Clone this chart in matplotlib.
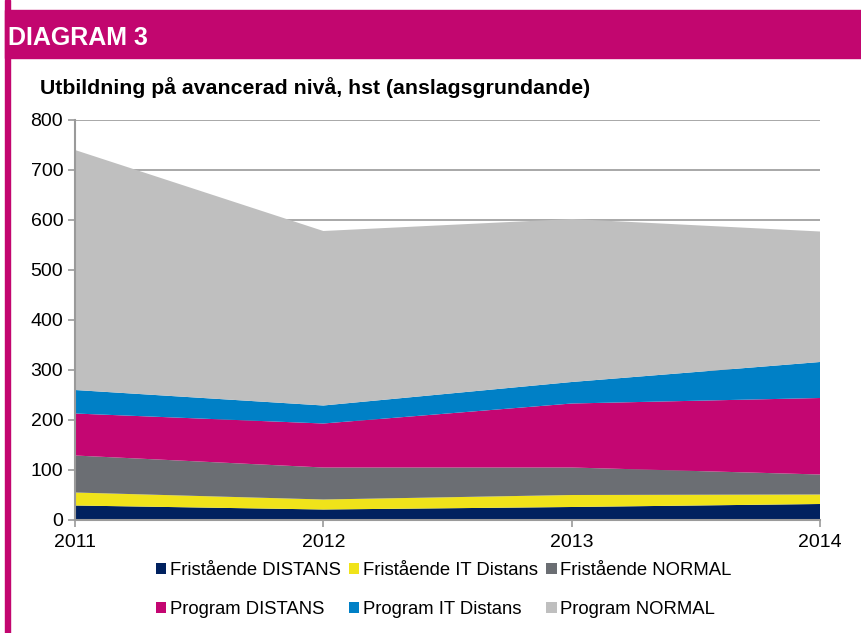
import matplotlib
matplotlib.use("Agg")
import matplotlib.pyplot as plt
from matplotlib.patches import Patch, Rectangle

plt.rcParams['font.family'] = ['Liberation Sans', 'DejaVu Sans']

# Data (hst per year)
years = [2011, 2012, 2013, 2014]
fri_distans = [29, 21, 26, 32]
fri_it_distans = [26, 20, 24, 19]
fri_normal = [74, 64, 55, 40]
prog_distans = [84, 88, 128, 153]
prog_it_distans = [47, 36, 43, 72]
prog_normal = [480, 349, 326, 261]

labels = ["Fristående DISTANS", "Fristående IT Distans", "Fristående NORMAL",
          "Program DISTANS", "Program IT Distans", "Program NORMAL"]
colors = ["#00215F", "#F0E31A", "#6B6E73", "#C40672", "#0080C6", "#BFBFBF"]
magenta = "#C2066F"

fig = plt.figure(figsize=(8.61, 6.33), dpi=100)

# frame: header bar and left border
fig.patches.append(Rectangle((5 / 861, 1 - 58 / 633), 1, 48 / 633,
                             transform=fig.transFigure, color=magenta, zorder=0))
fig.patches.append(Rectangle((5 / 861, 0), 4.5 / 861, 1,
                             transform=fig.transFigure, color=magenta, zorder=0))
fig.text(8 / 861, 1 - 38 / 633, "DIAGRAM 3", color="white", fontsize=18,
         fontweight="bold", va="center", ha="left")
fig.text(40 / 861, 1 - 88 / 633, "Utbildning på avancerad nivå, hst (anslagsgrundande)",
         color="black", fontsize=15.3, fontweight="bold", va="center", ha="left")

ax = fig.add_axes([75 / 861, 1 - 520 / 633, 745 / 861, 400 / 633])
series = [fri_distans, fri_it_distans, fri_normal, prog_distans, prog_it_distans, prog_normal]
ax.stackplot(years, series, colors=colors, labels=labels, linewidth=0, zorder=2)

ax.set_xlim(2011, 2014)
ax.set_ylim(0, 800)
ax.set_xticks(years)
ax.set_yticks(range(0, 801, 100))
ax.yaxis.grid(True, color="#9A9A9A", linewidth=1.2, zorder=0)
ax.set_axisbelow(True)
for s in ["top", "right"]:
    ax.spines[s].set_visible(False)
for s in ["left", "bottom"]:
    ax.spines[s].set_color("#9A9A9A")
    ax.spines[s].set_linewidth(1.5)
    ax.spines[s].set_zorder(3)
ax.tick_params(axis="both", direction="out", length=5, width=1.2, color="#9A9A9A",
               labelsize=14, labelcolor="black")
ax.tick_params(axis="x", pad=5)

# legend filled row by row (matplotlib fills column-wise)
order = [0, 3, 1, 4, 2, 5]
handles = [Patch(facecolor=colors[i], edgecolor="none") for i in order]
fig.legend(handles, [labels[i] for i in order], ncol=3, loc="upper left",
           bbox_to_anchor=(147 / 861, 1 - 553 / 633), frameon=False,
           fontsize=13.3, handlelength=0.55, handleheight=0.55, handletextpad=0.2,
           columnspacing=0.45, labelspacing=1.19, borderpad=0)

fig.savefig("out.png", dpi=100)
